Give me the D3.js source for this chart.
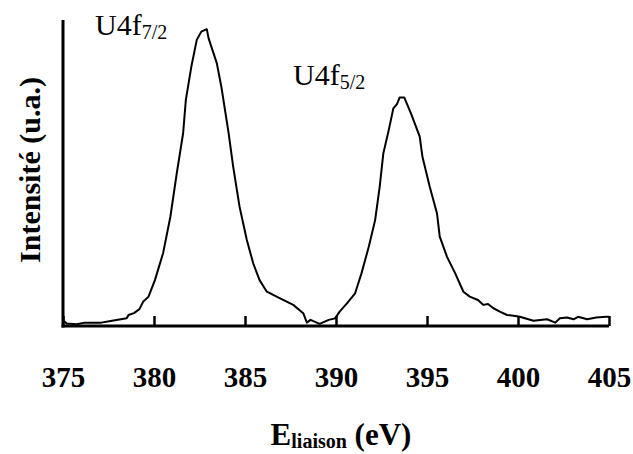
<!DOCTYPE html>
<html>
<head>
<meta charset="utf-8">
<script src="https://cdn.jsdelivr.net/npm/d3@7"></script>
<style>
  body { margin: 0; background: #fff; }
</style>
</head>
<body>
<svg></svg>
<script>
// binding energy (eV) and intensity (u.a.)
var energy = [375.05, 375.2, 375.75, 376.2, 377.1, 377.7, 378.5, 378.6, 378.9, 379.2,
  379.4, 379.7, 380.05, 380.5, 380.9, 381.25, 381.6, 381.75, 382.05, 382.35,
  382.6, 382.9, 383.0, 383.45, 383.7, 384.1, 384.35, 384.7, 385.1, 385.45,
  385.8, 386.2, 386.9, 387.65, 388.2, 388.4, 388.6, 389.1, 389.6, 389.95,
  390.2, 390.6, 391.05, 391.4, 391.8, 392.15, 392.4, 392.6, 392.9, 393.15,
  393.35, 393.5, 393.75, 394.15, 394.6, 394.75, 395.15, 395.55, 395.7, 396.1,
  396.55, 397.0, 397.35, 397.8, 398.1, 398.35, 398.65, 399.0, 399.4, 399.85,
  400.1, 400.85, 401.6, 402.05, 402.3, 402.7, 403.05, 403.3, 403.8, 404.3,
  404.85, 405.0];
var intensity = [1.6, 0.8, 0.6, 1.1, 1.1, 1.7, 2.5, 3.6, 4.2, 5.5,
  7.9, 9.6, 15.0, 23.8, 35.7, 49.9, 63.0, 73.9, 84.7, 93.5,
  96.2, 97.0, 94.0, 85.9, 78.2, 63.0, 52.1, 39.0, 28.1, 20.5,
  15.0, 11.2, 9.1, 6.9, 4.2, 1.1, 2.0, 0.7, 2.0, 2.5,
  4.7, 7.4, 10.7, 17.2, 25.9, 34.6, 45.5, 56.4, 64.1, 71.1,
  72.5, 74.7, 74.7, 69.0, 61.9, 55.3, 45.5, 36.8, 29.2, 22.6,
  17.2, 11.2, 9.6, 8.5, 6.9, 7.2, 5.8, 4.7, 3.6, 3.3,
  3.0, 1.7, 2.2, 1.1, 2.5, 2.8, 2.2, 3.0, 2.2, 2.8,
  3.0, 3.0];
var xTicks = [375, 380, 385, 390, 395, 400, 405];
var peakNames = ["U4f", "U4f"];
var peakSubs = ["7/2", "5/2"];

var W = 633, H = 454;
var margins = { top: 20, bottom: 128, left: 63, right: 24 };
var serif = "'Liberation Serif', 'Times New Roman', Times, 'Nimbus Roman', FreeSerif, 'Noto Serif', 'DejaVu Serif', serif";

var svg = d3.select("svg").attr("width", W).attr("height", H);

var xScale = d3.scaleLinear()
  .domain([375, 405])
  .range([margins.left, W - margins.right]);
var yScale = d3.scaleLinear()
  .domain([0, 100])
  .range([H - margins.bottom, margins.top]);

var y0 = yScale(0);

// x axis: ticks pointing up, labels well below
var xAxis = d3.axisBottom(xScale)
  .tickValues(xTicks)
  .tickFormat(d3.format("d"))
  .tickSizeInner(-10)
  .tickSizeOuter(0)
  .tickPadding(40);

var gx = svg.append("g")
  .attr("transform", "translate(0," + y0 + ")")
  .call(xAxis)
  .attr("font-family", serif);
gx.select(".domain")
  .attr("stroke", "#000")
  .attr("stroke-width", 3)
  .attr("d", "M" + (margins.left - 1.5) + ",0H" + xScale(405));
gx.selectAll(".tick line").attr("stroke", "#000").attr("stroke-width", 2.5);
gx.selectAll(".tick text")
  .attr("font-size", 29)
  .attr("font-weight", "bold")
  .attr("fill", "#000");

// y axis: plain line, no ticks
var yAxis = d3.axisLeft(yScale).tickValues([]).tickSizeOuter(0);
var gy = svg.append("g")
  .attr("transform", "translate(" + margins.left + ",0)")
  .call(yAxis);
gy.select(".domain")
  .attr("stroke", "#000")
  .attr("stroke-width", 3)
  .attr("d", "M0," + yScale(100) + "V" + (y0 + 1.5));

// spectrum
var pts = energy.map(function(e, i) { return [e, intensity[i]]; });
var line = d3.line()
  .x(function(d) { return xScale(d[0]); })
  .y(function(d) { return yScale(d[1]); });
svg.append("path")
  .datum(pts)
  .attr("d", line)
  .attr("fill", "none")
  .attr("stroke", "#000")
  .attr("stroke-width", 2)
  .attr("stroke-linejoin", "round");

// peak labels
var labelPos = [[95, 35], [293, 85]];
labelPos.forEach(function(p, i) {
  var t = svg.append("text")
    .attr("x", p[0])
    .attr("y", p[1])
    .attr("font-family", serif)
    .attr("font-size", 30);
  t.append("tspan").text(peakNames[i]);
  t.append("tspan").attr("font-size", 20).attr("dy", 4).text(peakSubs[i]);
});

// axis titles
var xt = svg.append("text")
  .attr("x", 341)
  .attr("y", 445)
  .attr("text-anchor", "middle")
  .attr("font-family", serif)
  .attr("font-weight", "bold")
  .attr("font-size", 31);
xt.append("tspan").text("E");
xt.append("tspan").attr("font-size", 20).attr("dy", 3).text("liaison");
xt.append("tspan").attr("dy", -3).text(" (eV)");

svg.append("text")
  .attr("transform", "translate(40,170) rotate(-90)")
  .attr("text-anchor", "middle")
  .attr("font-family", serif)
  .attr("font-weight", "bold")
  .attr("font-size", 30)
  .text("Intensité (u.a.)");
</script>
</body>
</html>
